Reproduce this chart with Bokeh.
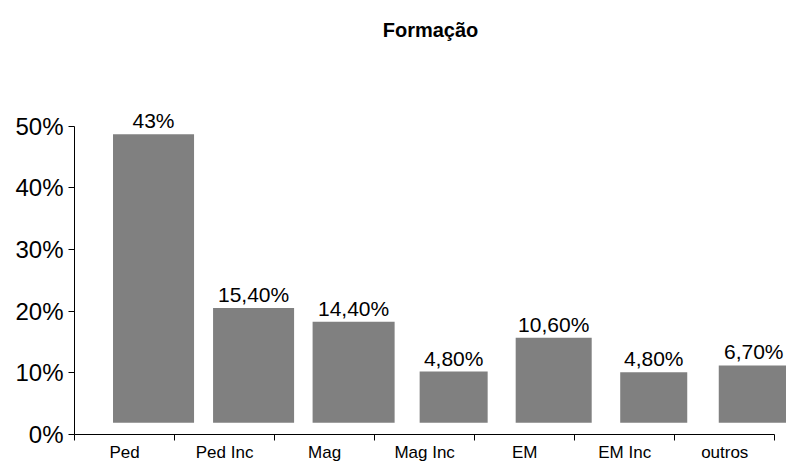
from bokeh.plotting import figure
from bokeh.models import Range1d, FixedTicker, PrintfTickFormatter, ColumnDataSource, Title
from bokeh.embed import file_html
from bokeh.resources import INLINE

# ---- data ----
title_text = "Formação"
categories = ["Ped", "Ped Inc", "Mag", "Mag Inc", "EM", "EM Inc", "outros"]
bar_top = [48.7, 20.5, 18.3, 10.2, 15.7, 10.1, 11.2]      # bar top (% axis)
bar_base = [1.9, 1.9, 1.9, 1.9, 1.9, 1.9, 1.9]            # bar bottom (% axis)
bar_labels = ["43%", "15,40%", "14,40%", "4,80%", "10,60%", "4,80%", "6,70%"]
y_ticks = [0, 10, 20, 30, 40, 50]

# ---- styles ----
bar_offset = 0.29
bar_widths = [0.81, 0.81, 0.82, 0.68, 0.76, 0.67, 0.70]
FONT = "Liberation Sans"

n = len(categories)
centers = [i + 0.5 for i in range(n)]
xs = [c + bar_offset for c in centers]

src = ColumnDataSource(dict(x=xs, top=bar_top, bottom=bar_base, w=bar_widths, lab=bar_labels))

px_per_unit = 100.04
frame_w = 712
frame_h = 394
px_per_pct = 6.167

p = figure(frame_width=frame_w, frame_height=frame_h,
           min_border_left=74, min_border_right=0, min_border_top=40, min_border_bottom=28,
           x_range=Range1d(0, frame_w / px_per_unit), y_range=Range1d(0, frame_h / px_per_pct),
           output_backend="svg", toolbar_location=None, background_fill_color="white",
           border_fill_color="white", outline_line_color=None)

p.title = Title(text=title_text, align="center", text_font=FONT, text_font_size="20px",
                text_font_style="bold", text_color="black", standoff=0, offset=3)

p.grid.visible = False

p.vbar(x="x", top="top", bottom="bottom", width="w", source=src,
       fill_color="#808080", line_color=None)
p.text(x="x", y="top", text="lab", source=src, text_align="center", text_baseline="bottom",
       y_offset=-2, text_font_size="21px", text_color="black", text_font={"value": FONT})

# y axis
ya = p.yaxis[0]
ya.ticker = FixedTicker(ticks=y_ticks, minor_ticks=[])
ya.formatter = PrintfTickFormatter(format="%d%%")
ya.bounds = (0, 50)
ya.major_tick_out = 6
ya.major_tick_in = 0
ya.minor_tick_line_color = None
ya.major_label_text_font = FONT
ya.major_label_text_font_size = "24px"
ya.major_label_text_color = "black"
ya.major_label_standoff = 5
ya.axis_line_color = "black"
ya.major_tick_line_color = "black"

# x axis
xa = p.xaxis[0]
xa.ticker = FixedTicker(ticks=centers, minor_ticks=list(range(n + 1)))
xa.major_label_overrides = {c: categories[i] for i, c in enumerate(centers)}
xa.bounds = (0, n)
xa.major_tick_line_color = None
xa.major_tick_out = 0
xa.major_tick_in = 0
xa.minor_tick_out = 6
xa.minor_tick_in = 0
xa.minor_tick_line_color = "black"
xa.axis_line_color = "black"
xa.major_label_text_font = FONT
xa.major_label_text_font_size = "17px"
xa.major_label_text_color = "black"
xa.major_label_standoff = 2

open("out.html", "w").write(file_html(p, INLINE))
